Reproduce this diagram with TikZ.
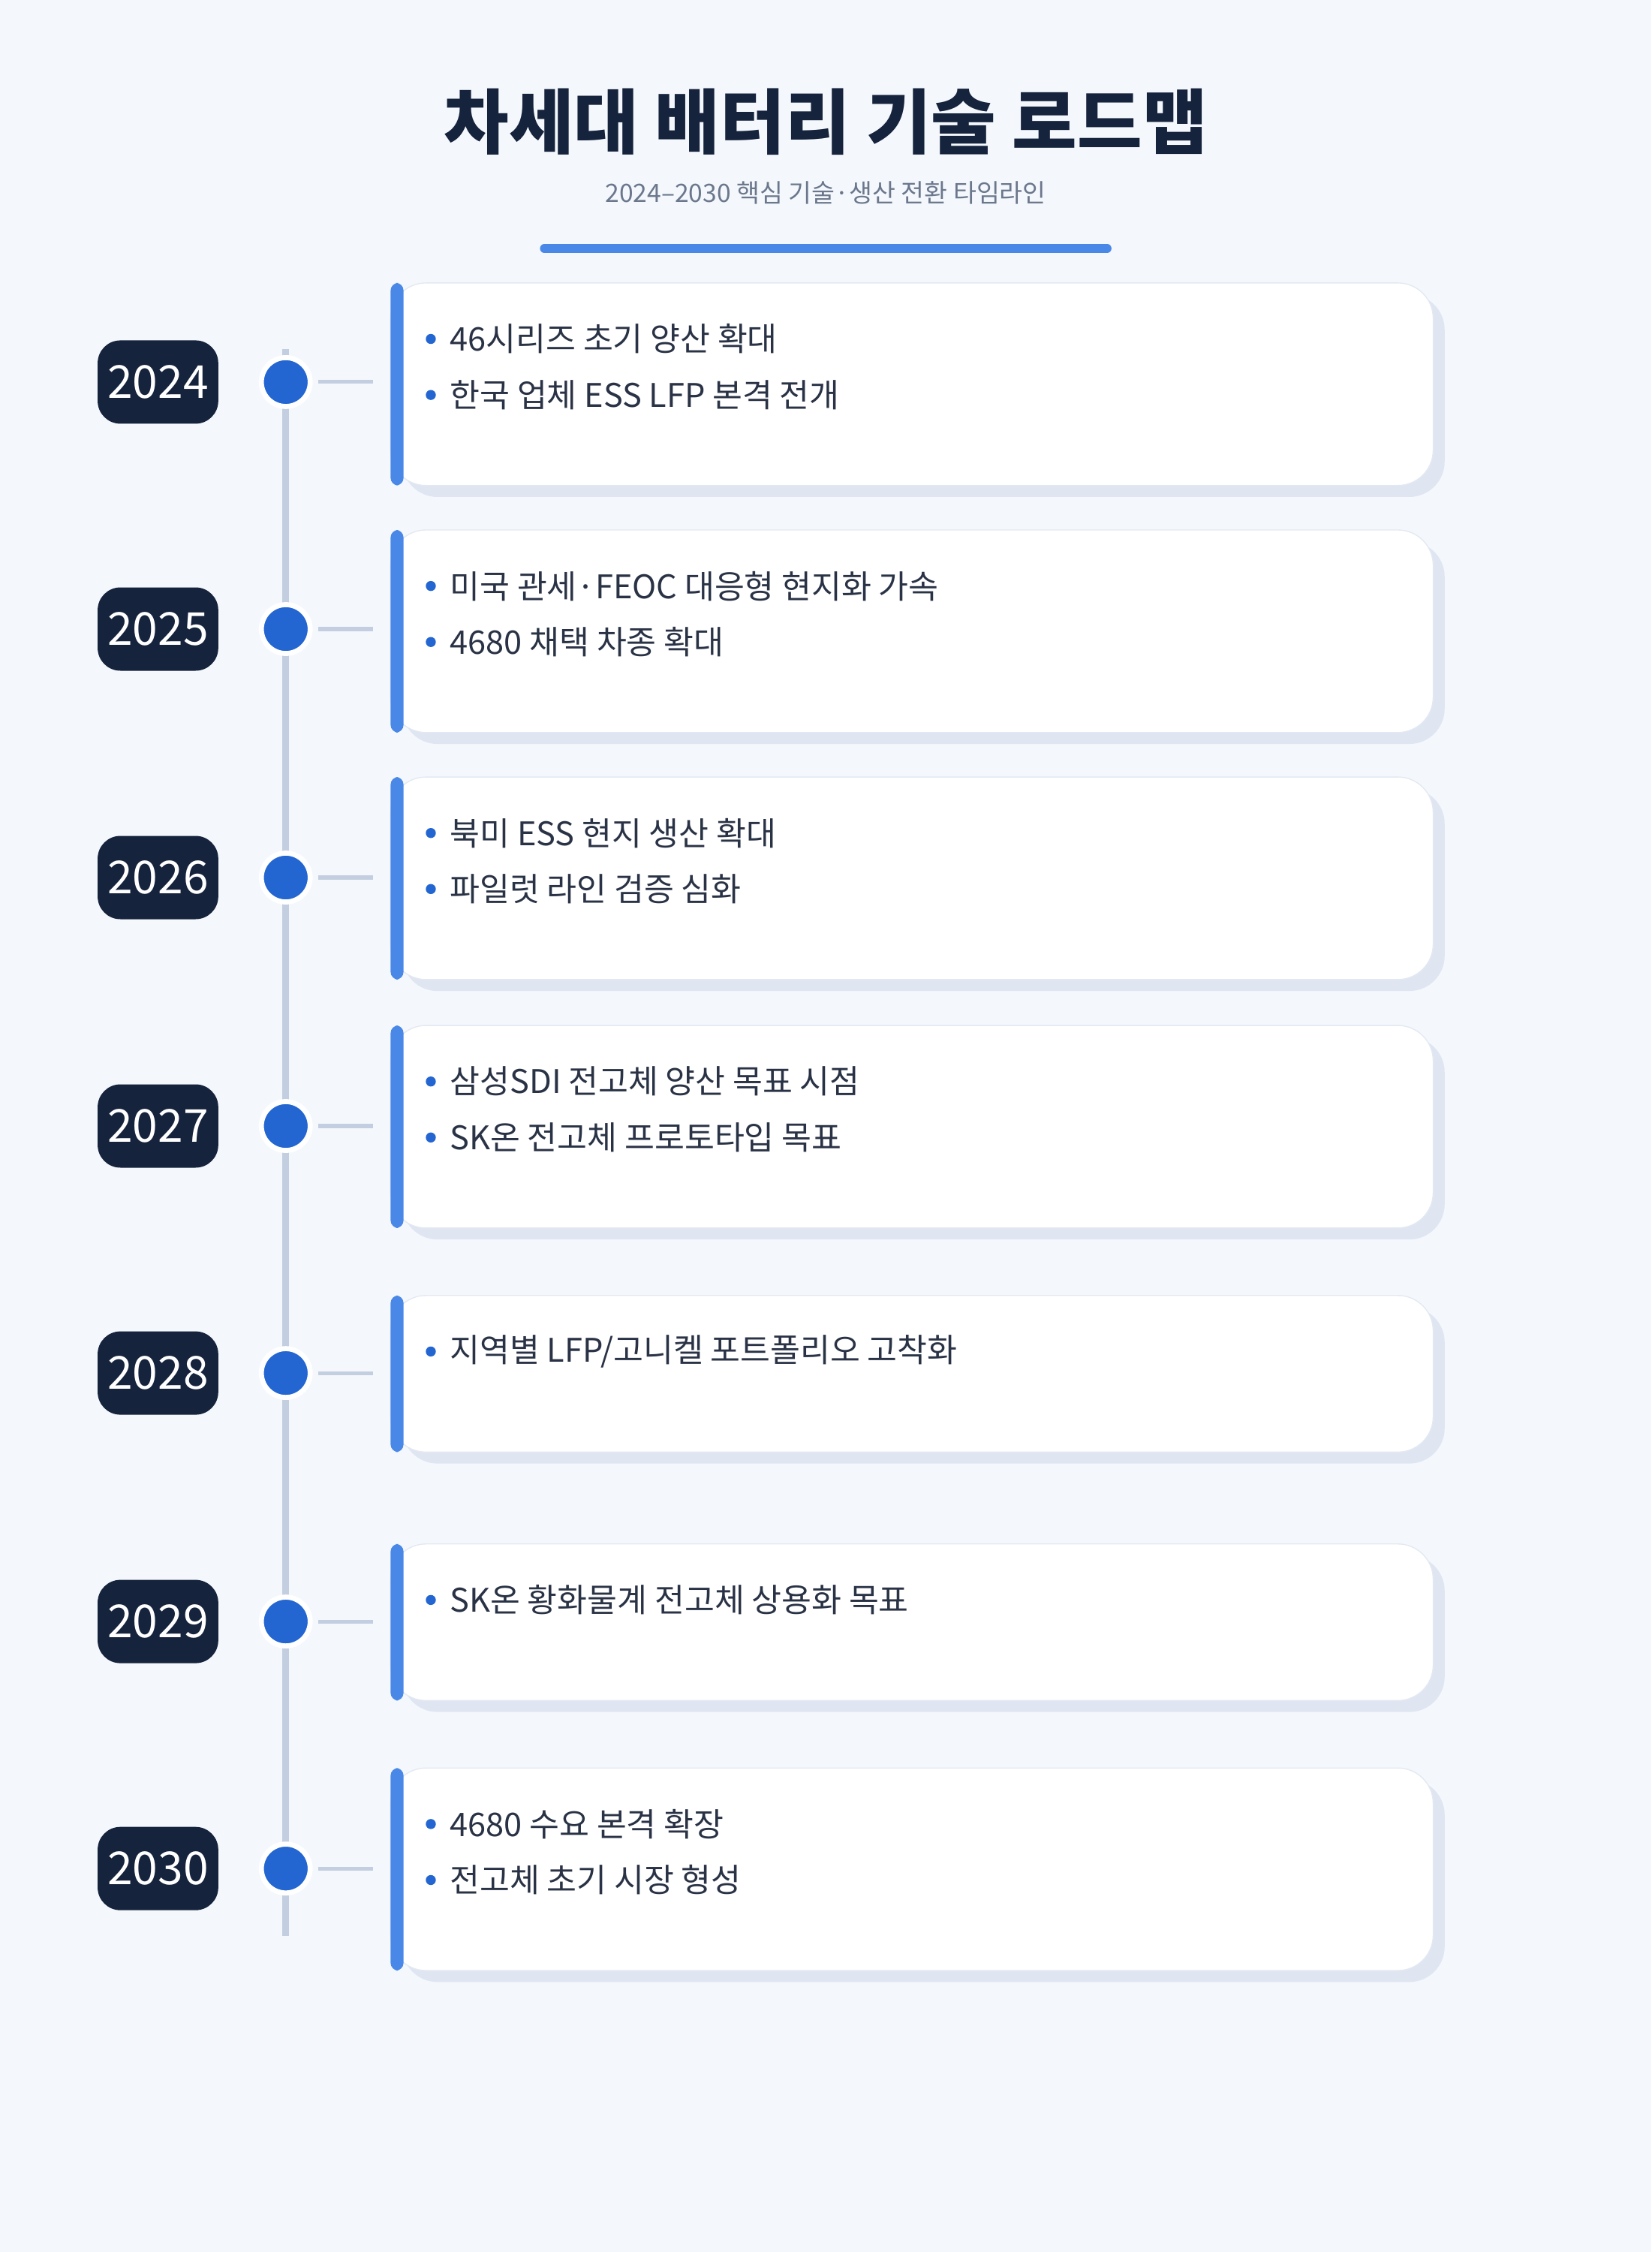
\documentclass[tikz,border=0pt]{standalone}
\usepackage{fontspec}
\setmainfont{Noto Sans CJK KR}
\usetikzlibrary{positioning}
\definecolor{bgc}{HTML}{F4F8FC}
\definecolor{navy}{HTML}{16233D}
\definecolor{accent}{HTML}{4A88E8}
\definecolor{dotblue}{HTML}{2366D1}
\definecolor{railc}{HTML}{C3CFE0}
\definecolor{shadowc}{HTML}{DFE6F2}
\definecolor{edgec}{HTML}{E3E9F2}
\definecolor{textc}{HTML}{2A3346}
\definecolor{subc}{HTML}{6B778C}

\begin{document}
\begin{tikzpicture}[x=0.02cm, y=-0.02cm,
    year/.style={fill=navy, rounded corners=9pt, text=white, minimum width=84*0.02cm, minimum height=58*0.02cm, font=\fontsize{18}{18}\selectfont, inner sep=0pt},
    dot/.style={circle, fill=dotblue, draw=white, line width=2pt, minimum size=34*0.02cm, inner sep=0pt},
    item/.style={anchor=west, text=textc, font=\fontsize{12.9}{14}\selectfont, inner sep=0pt},
    bullet/.style={circle, fill=dotblue, minimum size=7*0.02cm, inner sep=0pt}
]
\fill[bgc] (0,0) rectangle (1150,1568);
\useasboundingbox (0,0) rectangle (1150,1568);

% header
\node[text=navy, font=\fontsize{28}{28}\bfseries\selectfont] (title) at (575,85) {차세대 배터리 기술 로드맵};
\node[text=subc, font=\fontsize{10}{10}\selectfont] (subtitle) at (575,134) {2024–2030 핵심 기술·생산 전환 타임라인};
\draw[accent, line width=3.4pt, line cap=round] (379,173) -- (771,173);

% rail
\coordinate (railtop) at (199,243);
\coordinate (railbot) at (199,1348);
\draw[railc, line width=2.8pt] (railtop) -- (railbot);

% rows: year / centre / card top / card bottom / lines
\foreach \yr/\cy/\ct/\cb/\items in {
    2024/266/197/338/{46시리즈 초기 양산 확대,한국 업체 ESS LFP 본격 전개},
    2025/438/369/510/{미국 관세·FEOC 대응형 현지화 가속,4680 채택 차종 확대},
    2026/611/541/682/{북미 ESS 현지 생산 확대,파일럿 라인 검증 심화},
    2027/784/714/855/{삼성SDI 전고체 양산 목표 시점,SK온 전고체 프로토타입 목표},
    2028/956/902/1011/{지역별 LFP/고니켈 포트폴리오 고착화},
    2029/1129/1075/1184/{SK온 황화물계 전고체 상용화 목표},
    2030/1301/1231/1372/{4680 수요 본격 확장,전고체 초기 시장 형성}}{
  % card
  \fill[shadowc, rounded corners=14pt] (280,\ct+8) rectangle (1006,\cb+8);
  \draw[edgec, fill=white, rounded corners=14pt] (272,\ct) rectangle (998,\cb);
  \fill[accent, rounded corners=3pt] (272,\ct) rectangle (281,\cb);
  % marker
  \node[year] (y\yr) at (110,\cy) {\yr};
  \node[dot] (d\yr) at (199,\cy) {};
  \coordinate (c\yr) at (260,\cy);
  \draw[railc, line width=1.5pt] (d\yr.east) ++(4,0) -- (c\yr);
  % items
  \foreach \txt [count=\i] in \items {
    \node[bullet] (b\yr\i) at (300,\ct+39*\i) {};
    \node[item] (t\yr\i) at (313,\ct+39*\i) {\txt};
  }
}
\end{tikzpicture}
\end{document}
